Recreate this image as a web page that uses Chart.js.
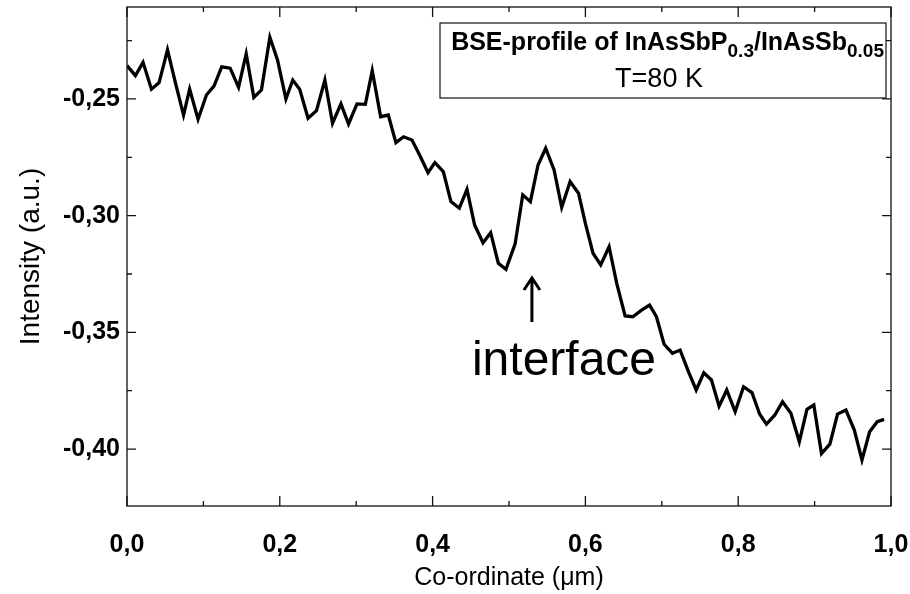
<html>
<head>
    <meta charset="UTF-8">
    <title>BSE-profile</title>
    <style>
        body { margin: 0; background: #fff; }
        #wrap { width: 910px; height: 594px; }
    </style>
</head>
<body>
    <div id="wrap"><canvas id="bseChart" width="910" height="594"></canvas></div>
    <script src="https://cdn.jsdelivr.net/npm/chart.js"></script>
    <script>
        // values
        const coord = [0.000, 0.011, 0.021, 0.032, 0.042, 0.053, 0.063, 0.074, 0.082, 0.093,
            0.104, 0.114, 0.124, 0.135, 0.146, 0.156, 0.166, 0.176, 0.187, 0.197,
            0.208, 0.217, 0.226, 0.237, 0.248, 0.259, 0.269, 0.280, 0.290, 0.301,
            0.312, 0.321, 0.332, 0.342, 0.352, 0.362, 0.373, 0.383, 0.394, 0.403,
            0.414, 0.424, 0.435, 0.445, 0.455, 0.466, 0.476, 0.486, 0.496, 0.508,
            0.518, 0.528, 0.538, 0.548, 0.559, 0.569, 0.580, 0.591, 0.600, 0.610,
            0.620, 0.631, 0.641, 0.652, 0.662, 0.674, 0.684, 0.693, 0.703, 0.714,
            0.724, 0.735, 0.745, 0.755, 0.765, 0.775, 0.785, 0.796, 0.807, 0.818,
            0.828, 0.837, 0.848, 0.858, 0.869, 0.880, 0.890, 0.899, 0.909, 0.920,
            0.930, 0.941, 0.952, 0.962, 0.972, 0.982, 0.991];
        const intensity = [-0.2357, -0.2400, -0.2343, -0.2458, -0.2430, -0.2290, -0.2426, -0.2569, -0.2458, -0.2587,
            -0.2483, -0.2444, -0.2362, -0.2368, -0.2450, -0.2307, -0.2493, -0.2461, -0.2236, -0.2333,
            -0.2500, -0.2419, -0.2458, -0.2583, -0.2550, -0.2419, -0.2604, -0.2521, -0.2607, -0.2521,
            -0.2523, -0.2379, -0.2576, -0.2569, -0.2687, -0.2662, -0.2676, -0.2740, -0.2816, -0.2773,
            -0.2811, -0.2940, -0.2968, -0.2887, -0.3040, -0.3116, -0.3073, -0.3204, -0.3230, -0.3121,
            -0.2911, -0.2940, -0.2783, -0.2711, -0.2804, -0.2964, -0.2854, -0.2904, -0.3033, -0.3161,
            -0.3211, -0.3133, -0.3290, -0.3430, -0.3433, -0.3404, -0.3383, -0.3433, -0.3551, -0.3590,
            -0.3576, -0.3669, -0.3747, -0.3673, -0.3704, -0.3816, -0.3747, -0.3840, -0.3733, -0.3758,
            -0.3850, -0.3893, -0.3854, -0.3797, -0.3847, -0.3969, -0.3830, -0.3811, -0.4019, -0.3979,
            -0.3850, -0.3833, -0.3919, -0.4047, -0.3926, -0.3883, -0.3873];

        const xMajor = [0.0, 0.2, 0.4, 0.6, 0.8, 1.0];
        const yMajor = [-0.25, -0.30, -0.35, -0.40];
        const xTitle = 'Co-ordinate (\u03BCm)';
        const yTitle = 'Intensity (a.u.)';
        const boxLine2 = 'T=80 K';
        const arrowLabel = 'interface';
        const arrowAt = { x: 0.530, yTip: -0.3263, yTail: -0.3456, xText: 0.572, yText: -0.3625 };

        const FONT = "'Liberation Sans', Arial, sans-serif";
        Chart.defaults.font.family = FONT;
        Chart.defaults.color = '#000';

        function isMajor(v, list) {
            return list.some(m => Math.abs(m - v) < 1e-6);
        }

        function noScalePadding(s) {
            s.paddingLeft = 0; s.paddingRight = 0;
            s.paddingTop = 0; s.paddingBottom = 0;
        }

        // frame, inward ticks on four sides, the text box and the arrow
        const decorPlugin = {
            id: 'decor',
            afterDraw(chart) {
                const ctx = chart.ctx;
                const a = chart.chartArea;
                const xs = chart.scales.x, ys = chart.scales.y;
                ctx.save();
                ctx.strokeStyle = '#111';
                ctx.lineWidth = 1.3;
                ctx.strokeRect(a.left, a.top, a.right - a.left, a.bottom - a.top);

                ctx.beginPath();
                xs.ticks.forEach(t => {
                    const px = xs.getPixelForValue(t.value);
                    const len = isMajor(t.value, xMajor) ? 10 : 5;
                    ctx.moveTo(px, a.bottom); ctx.lineTo(px, a.bottom - len);
                    ctx.moveTo(px, a.top); ctx.lineTo(px, a.top + len);
                });
                ys.ticks.forEach(t => {
                    const py = ys.getPixelForValue(t.value);
                    const len = isMajor(t.value, yMajor) ? 9 : 5;
                    ctx.moveTo(a.left, py); ctx.lineTo(a.left + len, py);
                    ctx.moveTo(a.right, py); ctx.lineTo(a.right - len, py);
                });
                ctx.stroke();

                // text box in the top right corner
                const bx = 440, by = 23, bw = 446, bh = 75;
                ctx.fillStyle = '#fff';
                ctx.fillRect(bx, by, bw, bh);
                ctx.lineWidth = 1.2;
                ctx.strokeRect(bx, by, bw, bh);

                ctx.fillStyle = '#000';
                ctx.textBaseline = 'alphabetic';
                ctx.textAlign = 'left';
                const parts = [
                    ['BSE-profile of InAsSbP', 25, 0],
                    ['0.3', 19, 7],
                    ['/InAsSb', 25, 0],
                    ['0.05', 19, 7]
                ];
                let total = 0;
                parts.forEach(p => {
                    ctx.font = 'bold ' + p[1] + 'px ' + FONT;
                    total += ctx.measureText(p[0]).width;
                });
                let cx = bx + bw - 2 - total;
                parts.forEach(p => {
                    ctx.font = 'bold ' + p[1] + 'px ' + FONT;
                    ctx.fillText(p[0], cx, 50 + p[2]);
                    cx += ctx.measureText(p[0]).width;
                });
                ctx.font = '27px ' + FONT;
                ctx.textAlign = 'center';
                ctx.fillText(boxLine2, 659, 87);

                // arrow pointing at the interface
                const ax = xs.getPixelForValue(arrowAt.x);
                const tip = ys.getPixelForValue(arrowAt.yTip);
                const tail = ys.getPixelForValue(arrowAt.yTail);
                ctx.strokeStyle = '#000';
                ctx.lineWidth = 3;
                ctx.beginPath();
                ctx.moveTo(ax, tail); ctx.lineTo(ax, tip + 1);
                ctx.moveTo(ax - 8, tip + 13); ctx.lineTo(ax, tip + 1); ctx.lineTo(ax + 8, tip + 13);
                ctx.stroke();
                ctx.font = '48px ' + FONT;
                ctx.textBaseline = 'middle';
                ctx.fillText(arrowLabel, xs.getPixelForValue(arrowAt.xText), ys.getPixelForValue(arrowAt.yText));
                ctx.restore();
            }
        };

        const points = coord.map((c, i) => ({ x: c, y: intensity[i] }));

        const ctx = document.getElementById('bseChart').getContext('2d');
        const bseChart = new Chart(ctx, {
            type: 'line',
            data: {
                datasets: [{
                    data: points,
                    borderColor: '#000',
                    borderWidth: 3.3,
                    pointRadius: 0,
                    tension: 0,
                    fill: false
                }]
            },
            options: {
                responsive: false,
                animation: false,
                layout: { padding: { top: 7, right: 19, left: 0, bottom: 0 } },
                plugins: { legend: { display: false }, tooltip: { enabled: false } },
                scales: {
                    x: {
                        type: 'linear',
                        min: 0,
                        max: 1,
                        grid: { display: false, drawTicks: false },
                        border: { display: false },
                        afterFit: s => { s.height = 88; noScalePadding(s); },
                        ticks: {
                            stepSize: 0.1,
                            autoSkip: false,
                            maxRotation: 0,
                            padding: 24,
                            font: { size: 25, weight: 'bold' },
                            callback: v => isMajor(v, xMajor) ? v.toFixed(1).replace('.', ',') : ''
                        },
                        title: {
                            display: true,
                            text: xTitle,
                            font: { size: 25 },
                            padding: { top: 0, bottom: 1 }
                        }
                    },
                    y: {
                        min: -0.4244,
                        max: -0.2106,
                        grid: { display: false, drawTicks: false },
                        border: { display: false },
                        afterFit: s => { s.width = 127; noScalePadding(s); },
                        ticks: {
                            stepSize: 0.025,
                            includeBounds: false,
                            padding: 7,
                            font: { size: 25, weight: 'bold' },
                            callback: v => isMajor(v, yMajor) ? v.toFixed(2).replace('.', ',') : ''
                        },
                        title: {
                            display: true,
                            text: yTitle,
                            font: { size: 28 },
                            padding: { top: 14, bottom: 0 }
                        }
                    }
                }
            },
            plugins: [decorPlugin]
        });
    </script>
</body>
</html>
